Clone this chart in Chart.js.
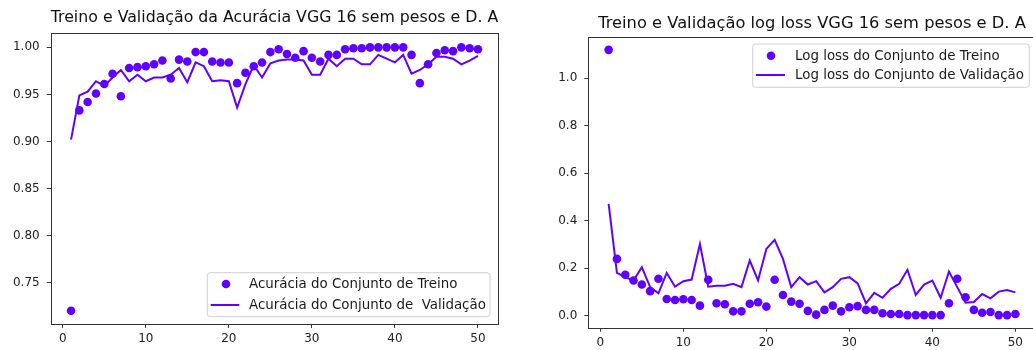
<!DOCTYPE html>
<html><head><meta charset="utf-8">
<script src="https://cdn.jsdelivr.net/npm/chart.js@4.4.1/dist/chart.umd.min.js"></script>
<style>
html,body{margin:0;padding:0;background:#fff;overflow:hidden;width:1033px;height:350px;}
#wrap{position:relative;width:1033px;height:350px;overflow:hidden;}
canvas{position:absolute;top:0;}
#c1{left:0}
#c2{left:520px}
</style></head><body>
<div id="wrap"><canvas id="c1" width="520" height="350"></canvas><canvas id="c2" width="520" height="350"></canvas></div>
<script>
const epochs = [1,2,3,4,5,6,7,8,9,10,11,12,13,14,15,16,17,18,19,20,21,22,23,24,25,26,27,28,29,30,31,32,33,34,35,36,37,38,39,40,41,42,43,44,45,46,47,48,49,50];

const accTrain = [0.720,0.933,0.942,0.951,0.961,0.972,0.948,0.978,0.979,0.980,
  0.982,0.986,0.967,0.987,0.985,0.995,0.995,0.985,0.984,0.984,
  0.962,0.973,0.980,0.984,0.995,0.998,0.993,0.989,0.996,0.989,
  0.985,0.992,0.992,0.998,0.999,0.999,1.000,1.000,1.000,1.000,
  1.000,0.992,0.962,0.982,0.994,0.997,0.996,1.000,0.999,0.998];
const accVal = [0.902,0.949,0.953,0.964,0.959,0.968,0.976,0.964,0.971,0.964,
  0.968,0.968,0.971,0.978,0.963,0.984,0.980,0.964,0.965,0.964,
  0.936,0.961,0.981,0.968,0.983,0.986,0.987,0.987,0.986,0.971,
  0.971,0.988,0.980,0.988,0.988,0.982,0.982,0.992,0.988,0.984,
  0.992,0.972,0.976,0.982,0.990,0.990,0.988,0.982,0.986,0.991];

const lossTrain = [1.120,0.239,0.172,0.148,0.131,0.103,0.155,0.070,0.066,0.069,
  0.066,0.042,0.151,0.052,0.048,0.018,0.018,0.050,0.056,0.038,
  0.151,0.087,0.059,0.050,0.020,0.004,0.024,0.042,0.018,0.035,
  0.040,0.024,0.024,0.010,0.007,0.007,0.002,0.002,0.002,0.002,
  0.002,0.052,0.155,0.077,0.024,0.012,0.015,0.002,0.002,0.007];
const lossVal = [0.471,0.180,0.162,0.148,0.204,0.120,0.094,0.180,0.122,0.145,
  0.152,0.302,0.122,0.126,0.126,0.134,0.120,0.232,0.148,0.281,
  0.319,0.239,0.120,0.162,0.131,0.145,0.098,0.120,0.155,0.162,
  0.136,0.052,0.096,0.075,0.113,0.134,0.193,0.087,0.131,0.148,
  0.075,0.186,0.120,0.054,0.057,0.091,0.073,0.101,0.108,0.098];

const xTicks = [0,10,20,30,40,50];
const accYTicks = [0.75,0.80,0.85,0.90,0.95,1.00];
const lossYTicks = [0.0,0.2,0.4,0.6,0.8,1.0];

const accTitle = 'Treino e Validação da Acurácia VGG 16 sem pesos e D. A';
const lossTitle = 'Treino e Validação log loss VGG 16 sem pesos e D. A';
const accLabels = ['Acurácia do Conjunto de Treino', 'Acurácia do Conjunto de  Validação'];
const lossLabels = ['Log loss do Conjunto de Treino', 'Log loss do Conjunto de Validação'];

const COLOR = '#6000ff';
const FONT = 'DejaVu Sans';

const frameLegend = {
  id: 'frameLegend',
  afterDraw(chart, args, o) {
    const ctx = chart.ctx, a = chart.chartArea;
    ctx.save();
    ctx.strokeStyle = '#333';
    ctx.lineWidth = 1;
    ctx.strokeRect(Math.round(a.left) + 0.5, Math.round(a.top) + 0.5,
      Math.round(a.right) - Math.round(a.left), Math.round(a.bottom) - Math.round(a.top));
    const b = o.box;
    const r = 3;
    ctx.beginPath();
    ctx.moveTo(b.x + r, b.y);
    ctx.arcTo(b.x + b.w, b.y, b.x + b.w, b.y + b.h, r);
    ctx.arcTo(b.x + b.w, b.y + b.h, b.x, b.y + b.h, r);
    ctx.arcTo(b.x, b.y + b.h, b.x, b.y, r);
    ctx.arcTo(b.x, b.y, b.x + b.w, b.y, r);
    ctx.closePath();
    ctx.fillStyle = 'rgba(255,255,255,0.8)';
    ctx.fill();
    ctx.strokeStyle = '#d0d0d0';
    ctx.stroke();
    ctx.font = o.fontSize + 'px "' + FONT + '"';
    ctx.textBaseline = 'middle';
    ctx.textAlign = 'left';
    chart.data.datasets.forEach((ds, i) => {
      const y = o.rows[i];
      if (ds.showLine) {
        ctx.beginPath();
        ctx.moveTo(o.lineX[0], y);
        ctx.lineTo(o.lineX[1], y);
        ctx.strokeStyle = COLOR;
        ctx.lineWidth = 2;
        ctx.stroke();
      } else {
        ctx.beginPath();
        ctx.arc(o.markerX, y, 4.3, 0, Math.PI * 2);
        ctx.fillStyle = COLOR;
        ctx.fill();
      }
      ctx.fillStyle = '#1a1a1a';
      ctx.fillText(ds.label, o.textX, y + 0.5);
    });
    ctx.restore();
  }
};

function makeChart(id, cfg) {
  const tickSet = (vals) => (scale) => { scale.ticks = vals.map(v => ({ value: v })); };
  new Chart(document.getElementById(id), {
    type: 'scatter',
    data: {
      datasets: [
        { label: cfg.labels[0], data: epochs.map((e, i) => ({ x: e, y: cfg.train[i] })),
          showLine: false, pointRadius: 4.3, pointHoverRadius: 4.3, pointBackgroundColor: COLOR,
          pointBorderWidth: 0, borderColor: COLOR, order: 1 },
        { label: cfg.labels[1], data: epochs.map((e, i) => ({ x: e, y: cfg.val[i] })),
          showLine: true, pointRadius: 0, borderColor: COLOR, borderWidth: 2, tension: 0, order: 0 }
      ]
    },
    options: {
      responsive: false,
      animation: false,
      devicePixelRatio: 1,
      layout: { padding: cfg.padding },
      plugins: {
        legend: { display: false },
        tooltip: { enabled: false },
        title: { display: true, text: cfg.title, fullSize: false, color: '#111',
          font: { family: FONT, size: 16.3, weight: 'normal' }, padding: cfg.titlePad },
        frameLegend: cfg.legend
      },
      scales: {
        x: {
          type: 'linear', min: -1.45, max: 52.45, bounds: 'data',
          afterBuildTicks: tickSet(xTicks),
          afterFit: (s) => { s.height = cfg.xH; },
          border: { display: false },
          grid: { display: true, drawOnChartArea: false, drawTicks: true, tickLength: 4, color: '#333', lineWidth: 1 },
          ticks: { color: '#222', font: { family: FONT, size: 12 }, padding: 4, maxRotation: 0,
            callback: (v) => String(v) }
        },
        y: {
          type: 'linear', min: cfg.yMin, max: cfg.yMax, bounds: 'data',
          afterBuildTicks: tickSet(cfg.yTicks),
          afterFit: (s) => { s.width = cfg.yW; },
          border: { display: false },
          grid: { display: true, drawOnChartArea: false, drawTicks: true, tickLength: 4, color: '#333', lineWidth: 1 },
          ticks: { color: '#222', font: { family: FONT, size: 12 }, padding: 7,
            callback: (v) => v.toFixed(cfg.dec) }
        }
      }
    },
    plugins: [frameLegend]
  });
}

makeChart('c1', {
  labels: accLabels, train: accTrain, val: accVal, title: accTitle,
  yMin: 0.706, yMax: 1.015, yTicks: accYTicks, dec: 2,
  yW: 50.7, xH: 26,
  padding: { left: 0, right: 21.7, top: 0, bottom: 0 },
  titlePad: { top: 8.4, bottom: 5.3 },
  legend: { box: { x: 207.3, y: 272.7, w: 282.7, h: 44 }, rows: [284, 305],
    markerX: 226, lineX: [210.7, 239.3], textX: 249, fontSize: 13.4 }
});

makeChart('c2', {
  labels: lossLabels, train: lossTrain, val: lossVal, title: lossTitle,
  yMin: -0.051, yMax: 1.173, yTicks: lossYTicks, dec: 1,
  yW: 68.3, xH: 22.3,
  padding: { left: 0, right: 4, top: 0, bottom: 0 },
  titlePad: { top: 13.9, bottom: 3.8 },
  legend: { box: { x: 232.7, y: 44, w: 276.6, h: 43.3 }, rows: [55.7, 75],
    markerX: 251, lineX: [236, 265], textX: 275, fontSize: 13.4 }
});
</script>
</body></html>
